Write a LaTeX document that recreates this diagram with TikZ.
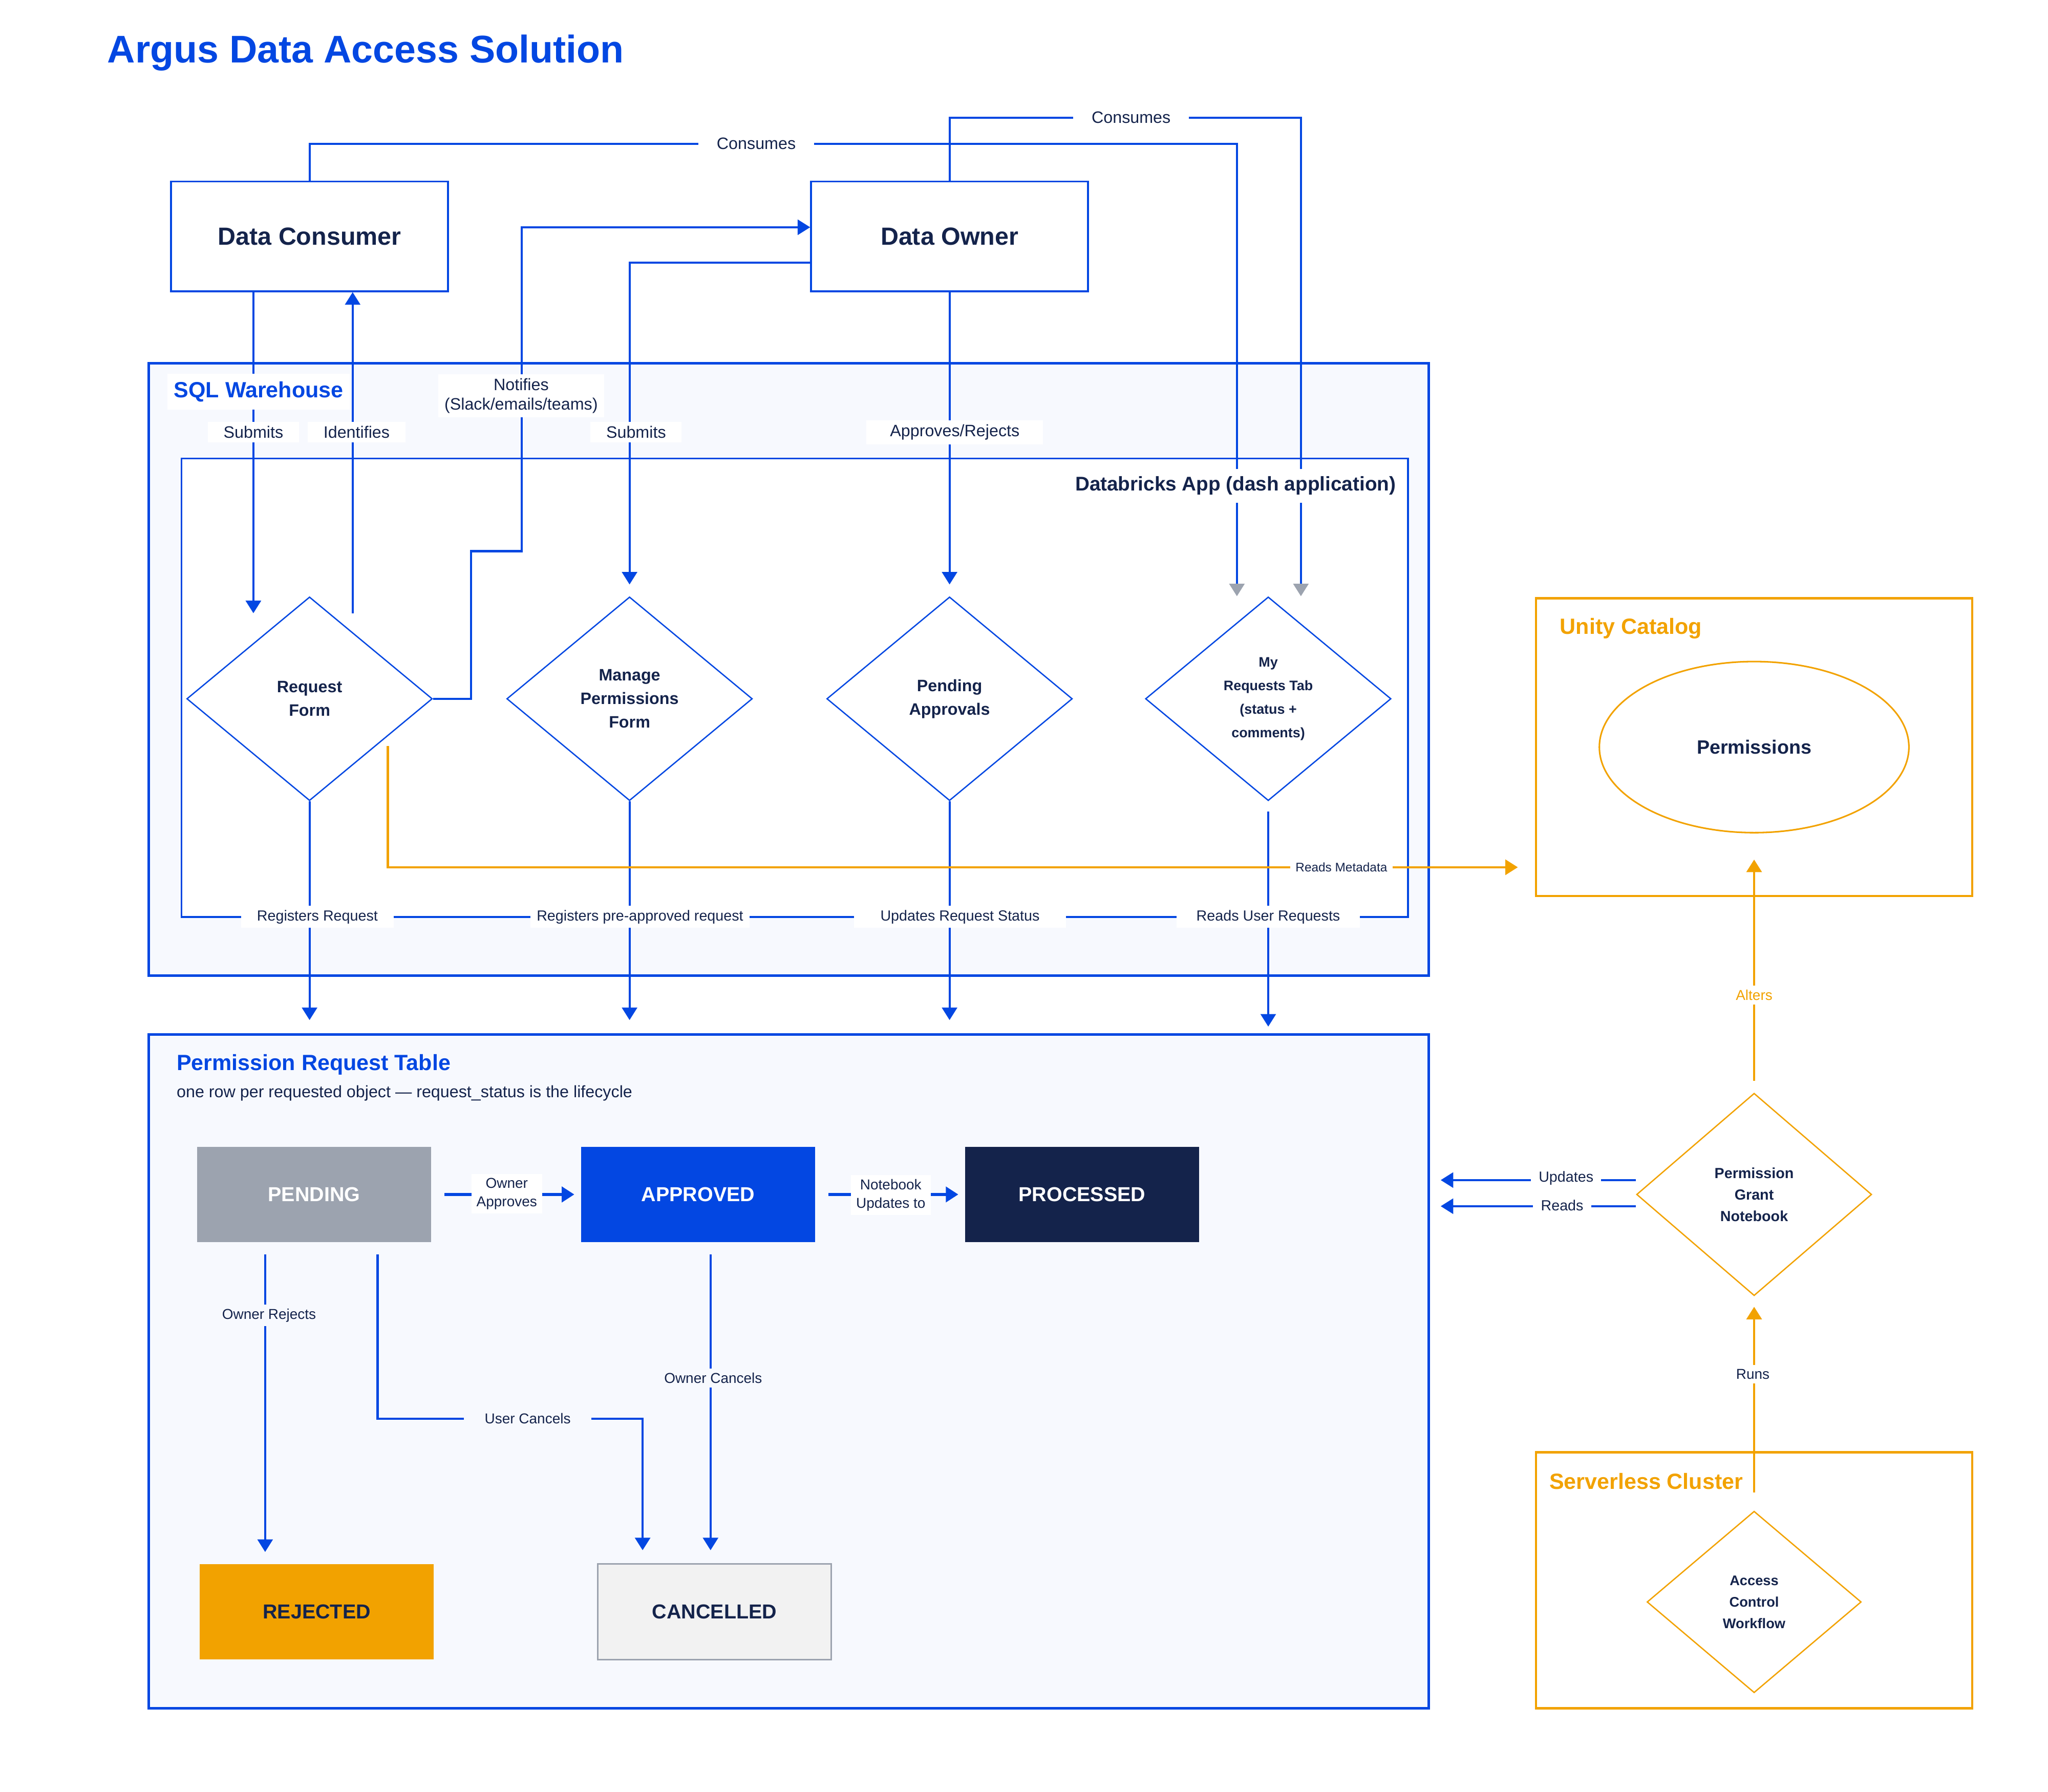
\documentclass[tikz,border=0pt]{standalone}
\usepackage{fontspec}
\setmainfont{Liberation Sans}
\usetikzlibrary{arrows.meta,shapes.geometric}

\definecolor{argblue}{RGB}{3,71,226}
\definecolor{argnavy}{RGB}{20,35,75}
\definecolor{arggray}{RGB}{156,163,175}
\definecolor{argorange}{RGB}{242,162,0}
\definecolor{argfill}{RGB}{247,249,254}
\definecolor{argpale}{RGB}{242,242,242}

\tikzset{
  region/.style={rectangle, draw=argblue, inner sep=0},
  actor/.style={rectangle, draw=argblue, line width=0.35mm, fill=white,
    minimum width=53mm, minimum height=21mm, text=argnavy,
    font=\bfseries\fontsize{13.5}{16}\selectfont},
  screen/.style={diamond, draw=argblue, line width=0.25mm, fill=white,
    minimum width=47mm, minimum height=39mm, inner sep=0, align=center,
    text=argnavy, font=\bfseries\fontsize{9}{12.8}\selectfont},
  state/.style={rectangle, minimum width=44.75mm, minimum height=18.25mm,
    inner sep=0, font=\bfseries\fontsize{11}{13}\selectfont},
  grptitle/.style={text=argblue, inner sep=0, font=\bfseries\fontsize{12}{14}\selectfont},
  conn/.style={draw=argblue, line width=0.4mm},
  oconn/.style={draw=argorange, line width=0.45mm},
  sconn/.style={draw=argblue, line width=0.65mm},
  bluetip/.style={-{Triangle[length=2.4mm,width=2.9mm]}},
  graytip/.style={-{Triangle[length=2.4mm,width=2.9mm,color=arggray]}},
  orangetip/.style={-{Triangle[length=2.4mm,width=2.9mm]}},
  lbl/.style={fill=white, text=argnavy, inner xsep=3.5mm, inner ysep=0.8mm,
    align=center, font=\fontsize{9}{10.7}\selectfont},
  slbl/.style={lbl, inner xsep=3mm, font=\fontsize{8}{9.5}\selectfont},
  tlbl/.style={lbl, inner xsep=1.5mm, font=\fontsize{7.8}{10}\selectfont}
}

\begin{document}
\begin{tikzpicture}[x=0.25mm, y=-0.25mm]

\useasboundingbox (0,0) rectangle (1568,1372);

% Title
\node[anchor=base west, inner sep=0, text=argblue,
  font=\bfseries\fontsize{21}{25}\selectfont] (title) at (82,48) {Argus Data Access Solution};

% Containers
\node[region, fill=argfill, line width=0.5mm, minimum width=245mm, minimum height=117.25mm] (sqlwh) at (604,512.5) {};
\node[region, fill=white, line width=0.33mm, minimum width=234.75mm, minimum height=87.75mm] (app) at (608.5,526.5) {};
\node[region, fill=argfill, line width=0.5mm, minimum width=245mm, minimum height=129mm] (prt) at (604,1050) {};
\node[region, draw=argorange, line width=0.45mm, minimum width=83.5mm, minimum height=57mm] (unity) at (1343,572) {};
\node[region, draw=argorange, line width=0.45mm, minimum width=83.5mm, minimum height=49mm] (srvless) at (1343,1210) {};

% Actors
\node[actor] (dc) at (237,181) {Data Consumer};
\node[actor] (do) at (727,181) {Data Owner};

% App screens
\node[screen] (reqform) at (237,535) {Request\\Form};
\node[screen] (mpf) at (482,535) {Manage\\Permissions\\Form};
\node[screen] (pa) at (727,535) {Pending\\Approvals};
\node[screen, font=\bfseries\fontsize{7.5}{12.8}\selectfont] (myreq) at (971,535) {My\\Requests Tab\\(status +\\comments)};

% Request states
\node[state, fill=arggray, text=white] (pending) at (240.5,914.5) {PENDING};
\node[state, fill=argblue, text=white] (approved) at (534.5,914.5) {APPROVED};
\node[state, fill=argnavy, text=white] (processed) at (828.5,914.5) {PROCESSED};
\node[state, fill=argorange, text=argnavy] (rejected) at (242.5,1234) {REJECTED};
\node[state, fill=argpale, draw=arggray, line width=0.3mm, text=argnavy] (cancelled) at (547,1234) {CANCELLED};

% Unity Catalog and cluster
\node[ellipse, draw=argorange, line width=0.3mm, minimum width=59.25mm, minimum height=32.75mm,
  text=argnavy, font=\bfseries\fontsize{10.5}{12}\selectfont] (perm) at (1343,572) {Permissions};
\node[screen, draw=argorange, minimum width=45mm, minimum height=38.75mm,
  font=\bfseries\fontsize{8}{11.7}\selectfont] (pgn) at (1343,914.5) {Permission\\Grant\\Notebook};
\node[screen, draw=argorange, minimum width=41mm, minimum height=34.75mm,
  font=\bfseries\fontsize{7.6}{11.7}\selectfont] (acw) at (1343,1226.5) {Access\\Control\\Workflow};

% Helper coordinates
\coordinate (prttop) at ([yshift=2.5mm]prt.north);
\coordinate (prttopb) at ([yshift=1.25mm]prt.north);
\coordinate (prtR) at ([xshift=2mm]prt.east);
\coordinate (rejtop) at ([yshift=2.25mm]rejected.north);
\coordinate (cantop) at ([yshift=2.5mm]cancelled.north);

% Consumes
\draw[conn, graytip] (dc.north) -- (dc.north |- 0,110) -| ([xshift=-6mm]myreq.north);
\draw[conn, graytip] (do.north) -- (do.north |- 0,90) -| ([xshift=6.25mm]myreq.north);

% Consumer and owner into the app
\draw[conn, bluetip] ([xshift=-10.75mm]dc.south) -- ([xshift=-10.75mm,yshift=-3.25mm]reqform.north);
\draw[conn, bluetip] ([xshift=8.25mm,yshift=-3.25mm]reqform.north) -- ([xshift=8.25mm]dc.south);
\draw[conn, bluetip] (reqform.east) -- ++(29,0) -- ++(0,-113) -- ++(39,0) |- ([yshift=1.75mm]do.west);
\draw[conn, bluetip] ([yshift=-5mm]do.west) -| ([yshift=2.25mm]mpf.north);
\draw[conn, bluetip] (do.south) -- ([yshift=2.25mm]pa.north);

% App into the table
\foreach \s in {reqform, mpf, pa}
  \draw[conn, bluetip] (\s.south) -- (\s.south |- prttop);
\draw[conn, bluetip] ([yshift=-2mm]myreq.south) -- (myreq.south |- prttopb);

% Metadata and notebook
\draw[oconn, orangetip] ([xshift=15mm,yshift=-9mm]reqform.center) |- ([xshift=-3.25mm,yshift=-23mm]unity.west);
\draw[oconn, orangetip] ([yshift=2.25mm]pgn.north) -- ([yshift=-5mm]perm.south);
\draw[oconn, orangetip] ([yshift=3.5mm]acw.north) -- ([yshift=-2mm]pgn.south);
\draw[conn, bluetip] ([yshift=2.75mm]pgn.west) coordinate (upd) -- (upd -| prtR);
\draw[conn, bluetip] ([yshift=-2.25mm]pgn.west) coordinate (rds) -- (rds -| prtR);

% Lifecycle
\draw[sconn, bluetip] ([xshift=2.5mm]pending.east) -- ([xshift=-1.25mm]approved.west);
\draw[sconn, bluetip] ([xshift=2.5mm]approved.east) -- ([xshift=-1.25mm]processed.west);
\draw[conn, bluetip] ([xshift=-9.375mm,yshift=-2.25mm]pending.south) coordinate (orj) -- (orj |- rejtop);
\draw[conn, line width=0.45mm, bluetip] ([xshift=12.125mm,yshift=-2.25mm]pending.south) -- ++(0,126)
  -| ([xshift=-13.75mm,yshift=2.5mm]cancelled.north);
\draw[conn, bluetip] ([xshift=2.375mm,yshift=-2.25mm]approved.south) coordinate (ocn) -- (ocn |- cantop);

% Group titles
\node[grptitle, fill=white, inner xsep=1.2mm, inner ysep=1.5mm] (sqltitle) at (198,300) {SQL Warehouse};
\node[anchor=east, fill=white, text=argnavy, inner xsep=1mm, inner ysep=1.5mm,
  font=\bfseries\fontsize{10.8}{13}\selectfont] (apptitle) at (1073,372) {Databricks App (dash application)};
\node[grptitle, anchor=west] (prttitle) at (135,815) {Permission Request Table};
\node[anchor=west, inner sep=0, text=argnavy, font=\fontsize{9}{10.5}\selectfont] (prtsub) at (135,837)
  {one row per requested object — request\_status is the lifecycle};
\node[grptitle, anchor=west, text=argorange] (unitytitle) at (1194,481) {Unity Catalog};
\node[grptitle, anchor=west, text=argorange] (srvtitle) at (1186,1134) {Serverless Cluster};

% Connector labels
\node[lbl] (l1) at (579,110) {Consumes};
\node[lbl] (l2) at (866,90) {Consumes};
\node[lbl, inner xsep=3mm] (l3) at (194,331) {Submits};
\node[lbl, inner xsep=3mm] (l4) at (273,331) {Identifies};
\node[lbl, inner xsep=1.2mm, font=\fontsize{9}{10.5}\selectfont] (l5) at (399,303) {Notifies\\(Slack/emails/teams)};
\node[lbl, inner xsep=3mm] (l6) at (487,331) {Submits};
\node[lbl, inner xsep=4.5mm] (l7) at (731,331) {Approves/Rejects};
\node[slbl] (l8) at (243,702) {Registers Request};
\node[slbl, inner xsep=1.2mm] (l9) at (490,702) {Registers pre-approved request};
\node[slbl, inner xsep=5mm] (l10) at (735,702) {Updates Request Status};
\node[slbl, inner xsep=3.75mm] (l11) at (971,702) {Reads User Requests};
\node[tlbl, inner xsep=1mm, font=\fontsize{6.8}{8}\selectfont] (l12) at (1027,664) {Reads Metadata};
\node[tlbl, text=argorange] (l13) at (1343,762) {Alters};
\node[tlbl, font=\fontsize{8}{9.5}\selectfont] (l14) at (1199,902) {Updates};
\node[tlbl, font=\fontsize{8}{9.5}\selectfont] (l15) at (1196,923) {Reads};
\node[tlbl] (l16) at (1342,1052) {Runs};
\node[tlbl, inner xsep=1mm] (l17) at (388,914) {Owner\\Approves};
\node[tlbl, inner xsep=1mm] (l18) at (682,915) {Notebook\\Updates to};
\node[tlbl, fill=argfill] (l19) at (206,1007) {Owner Rejects};
\node[tlbl, fill=argfill, inner xsep=4mm] (l20) at (404,1086) {User Cancels};
\node[tlbl, fill=argfill] (l21) at (546,1055) {Owner Cancels};

\end{tikzpicture}
\end{document}
